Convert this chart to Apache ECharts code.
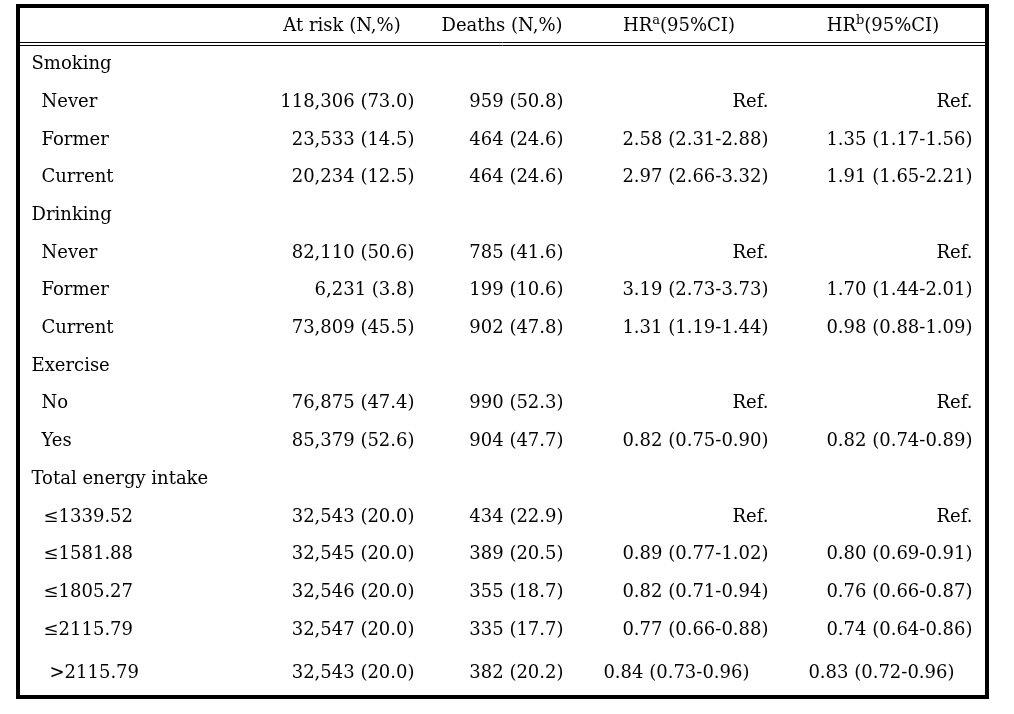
<!DOCTYPE html>
<html>
<head>
<meta charset="utf-8">
<script src="https://cdn.jsdelivr.net/npm/echarts@6/dist/echarts.min.js"></script>
<style>
  html, body { margin: 0; padding: 0; background: #fff; }
  #chart { width: 1014px; height: 714px; }
</style>
</head>
<body>
<div id="chart"></div>
<script>
// table rows (group headers and sub rows)
const rowLabels = ['Smoking', 'Never', 'Former', 'Current', 'Drinking', 'Never', 'Former', 'Current',
  'Exercise', 'No', 'Yes', 'Total energy intake', '≤1339.52', '≤1581.88', '≤1805.27', '≤2115.79', '>2115.79'];
const groupRows = ['Smoking', 'Drinking', 'Exercise', 'Total energy intake'];
const headers = ['At risk (N,%)', 'Deaths (N,%)', 'HR{sup|a}(95%CI)', 'HR{sup|b}(95%CI)'];

const atRiskN   = [null, 118306, 23533, 20234, null, 82110, 6231, 73809, null, 76875, 85379, null, 32543, 32545, 32546, 32547, 32543];
const atRiskPct = [null, 73.0, 14.5, 12.5, null, 50.6, 3.8, 45.5, null, 47.4, 52.6, null, 20.0, 20.0, 20.0, 20.0, 20.0];
const deathsN   = [null, 959, 464, 464, null, 785, 199, 902, null, 990, 904, null, 434, 389, 355, 335, 382];
const deathsPct = [null, 50.8, 24.6, 24.6, null, 41.6, 10.6, 47.8, null, 52.3, 47.7, null, 22.9, 20.5, 18.7, 17.7, 20.2];

// 1 with no CI = reference group
const hrA   = [null, 1, 2.58, 2.97, null, 1, 3.19, 1.31, null, 1, 0.82, null, 1, 0.89, 0.82, 0.77, 0.84];
const hrALo = [null, null, 2.31, 2.66, null, null, 2.73, 1.19, null, null, 0.75, null, null, 0.77, 0.71, 0.66, 0.73];
const hrAHi = [null, null, 2.88, 3.32, null, null, 3.73, 1.44, null, null, 0.90, null, null, 1.02, 0.94, 0.88, 0.96];
const hrB   = [null, 1, 1.35, 1.91, null, 1, 1.70, 0.98, null, 1, 0.82, null, 1, 0.80, 0.76, 0.74, 0.83];
const hrBLo = [null, null, 1.17, 1.65, null, null, 1.44, 0.88, null, null, 0.74, null, null, 0.69, 0.66, 0.64, 0.72];
const hrBHi = [null, null, 1.56, 2.21, null, null, 2.01, 1.09, null, null, 0.89, null, null, 0.91, 0.87, 0.86, 0.96];

// column anchors (x in px of the page), right edges for number columns
const colX = { group: 31, sub: 41, atRisk: 415, deaths: 564, hrA: 769, hrB: 973 };
const headerX = [342, 502, 679, 883];

const fmtN = n => n.toLocaleString('en-US');
const fmtHR = (est, lo, hi) => lo == null ? 'Ref.' : est.toFixed(2) + ' (' + lo.toFixed(2) + '-' + hi.toFixed(2) + ')';

const cells = [];
const lastRow = rowLabels.length - 1;

headers.forEach((h, i) => {
  cells.push({ value: [headerX[i], 0, h], label: { position: 'inside', offset: [0, 0] } });
});

rowLabels.forEach((name, i) => {
  const y = i + 1;
  const isGroup = groupRows.includes(name);
  // last row sits a bit lower and its HR cells are not right aligned in the source
  const dy = i === lastRow ? 6 : 0;
  cells.push({
    value: [isGroup ? colX.group : colX.sub + (i === lastRow ? 8 : (i > 11 ? 2 : 0)), y, name],
    label: { position: 'right', offset: [0, dy] }
  });
  if (isGroup) return;
  cells.push({ value: [colX.atRisk, y, fmtN(atRiskN[i]) + ' (' + atRiskPct[i].toFixed(1) + ')'], label: { position: 'left', offset: [0, dy] } });
  cells.push({ value: [colX.deaths, y, deathsN[i] + ' (' + deathsPct[i].toFixed(1) + ')'], label: { position: 'left', offset: [0, dy] } });
  cells.push({ value: [colX.hrA, y, fmtHR(hrA[i], hrALo[i], hrAHi[i])], label: { position: 'left', offset: [i === lastRow ? -19 : 0, dy] } });
  cells.push({ value: [colX.hrB, y, fmtHR(hrB[i], hrBLo[i], hrBHi[i])], label: { position: 'left', offset: [i === lastRow ? -18 : 0, dy] } });
});

const chart = echarts.init(document.getElementById('chart'));

const option = {
  animation: false,
  textStyle: { fontFamily: 'DejaVu Serif' },
  grid: {
    left: 18, right: 27, top: 6, bottom: 17,
    show: true,
    borderColor: '#000',
    borderWidth: 4,
    backgroundColor: '#fff'
  },
  xAxis: { type: 'value', min: 18, max: 987, show: false },
  yAxis: { type: 'value', inverse: true, min: -0.552, max: 17.777, show: false },
  series: [
    {
      type: 'scatter',
      silent: true,
      clip: false,
      symbolSize: 1,
      itemStyle: { color: 'rgba(0,0,0,0)', opacity: 1 },
      label: {
        show: true,
        distance: 0,
        opacity: 1,
        color: '#000',
        fontFamily: 'DejaVu Serif',
        fontSize: 18,
        lineHeight: 26,
        formatter: p => p.value[2],
        rich: {
          sup: { fontSize: 13, lineHeight: 13, verticalAlign: 'top', color: '#000', fontFamily: 'DejaVu Serif' }
        }
      },
      data: cells,
      // double rule under the header
      markLine: {
        silent: true,
        symbol: ['none', 'none'],
        label: { show: false },
        lineStyle: { color: '#000', width: 1, type: 'solid', opacity: 1 },
        data: [{ yAxis: 0.416 }, { yAxis: 0.496 }]
      }
    }
  ]
};

chart.setOption(option);

window.addEventListener('resize', function () {
  chart.resize();
});
</script>
</body>
</html>
